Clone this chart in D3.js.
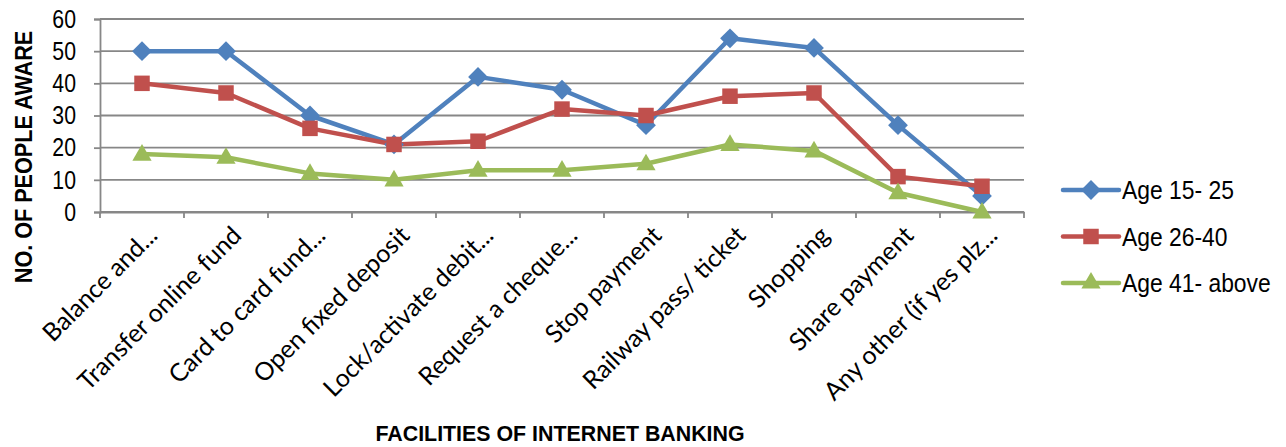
<!DOCTYPE html>
<html>
<head>
<meta charset="utf-8">
<script src="https://cdn.jsdelivr.net/npm/d3@7"></script>
<style>
  body { margin: 0; background: #fff; }
  text { fill: #000; }
</style>
</head>
<body>
<div id="chart"></div>
<script>
var categories = ["Balance and...", "Transfer online fund", "Card to card fund...", "Open fixed deposit",
    "Lock/activate debit...", "Request a cheque...", "Stop payment", "Railway pass/ ticket",
    "Shopping", "Share payment", "Any other (if yes plz..."];
var age15to25 = [50, 50, 30, 21, 42, 38, 27, 54, 51, 27, 5];
var age26to40 = [40, 37, 26, 21, 22, 32, 30, 36, 37, 11, 8];
var age41above = [18, 17, 12, 10, 13, 13, 15, 21, 19, 6, 0];
var yTicks = [0, 10, 20, 30, 40, 50, 60];

var series = [
    { name: "Age 15- 25", values: age15to25, color: "#4F81BD", shape: "diamond" },
    { name: "Age 26-40", values: age26to40, color: "#C0504D", shape: "square" },
    { name: "Age 41- above", values: age41above, color: "#9BBB59", shape: "triangle" }
];

var width = 1286, height = 447;
var plot = { left: 100, right: 1024, top: 19, bottom: 212 };

var svg = d3.select("#chart")
    .append("svg")
    .attr("width", width)
    .attr("height", height);

var x = d3.scaleBand()
    .domain(categories)
    .range([plot.left, plot.right]);

var y = d3.scaleLinear()
    .domain([0, 60])
    .range([plot.bottom, plot.top]);

var narrow = "'Liberation Sans Narrow', 'Arial Narrow', 'Liberation Sans', sans-serif";

// gridlines
svg.selectAll(".grid")
    .data(yTicks)
    .enter()
    .append("line")
    .attr("x1", plot.left)
    .attr("x2", plot.right)
    .attr("y1", function (d) { return y(d); })
    .attr("y2", function (d) { return y(d); })
    .style("stroke", "#878787")
    .style("stroke-width", 1.8);

// y axis
var yAxis = svg.append("g")
    .attr("transform", "translate(" + plot.left + ",0)")
    .call(d3.axisLeft(y).tickValues(yTicks).tickSize(6).tickPadding(0).tickFormat(""));
yAxis.select(".domain").style("stroke", "#878787").style("stroke-width", 1.8);
yAxis.selectAll(".tick line").style("stroke", "#878787").style("stroke-width", 1.8);

// narrow-looking tick numbers
svg.selectAll(".ylabel")
    .data(yTicks)
    .enter()
    .append("text")
    .attr("transform", function (d) { return "translate(76," + y(d) + ") scale(0.85,1)"; })
    .attr("text-anchor", "end")
    .attr("dy", "0.35em")
    .style("font-family", narrow)
    .style("font-size", "25px")
    .text(function (d) { return d; });

// x axis
var xAxis = svg.append("g")
    .attr("transform", "translate(0," + plot.bottom + ")")
    .call(d3.axisBottom(x).tickSize(0).tickFormat(""));
xAxis.select(".domain").style("stroke", "#878787").style("stroke-width", 1.8);

var bounds = d3.range(categories.length + 1).map(function (i) { return plot.left + i * x.step(); });
svg.selectAll(".xtick")
    .data(bounds)
    .enter()
    .append("line")
    .attr("x1", function (d) { return d; })
    .attr("x2", function (d) { return d; })
    .attr("y1", plot.bottom)
    .attr("y2", plot.bottom + 6)
    .style("stroke", "#878787")
    .style("stroke-width", 1.8);

svg.selectAll(".xlabel")
    .data(categories)
    .enter()
    .append("text")
    .attr("transform", function (d) {
        return "translate(" + (x(d) + x.bandwidth() / 2 + 17) + "," + (plot.bottom + 25) + ") rotate(-45)";
    })
    .attr("text-anchor", "end")
    .style("font-family", "Lato, 'Open Sans', sans-serif")
    .style("font-size", "25px")
    .text(function (d) { return d; });

// axis titles
svg.append("text")
    .attr("transform", "translate(32,157) rotate(-90) scale(0.9,1)")
    .attr("text-anchor", "middle")
    .style("font-family", narrow)
    .style("font-weight", "bold")
    .style("font-size", "24px")
    .text("NO. OF PEOPLE AWARE");

svg.append("text")
    .attr("transform", "translate(560,441) scale(0.93,1)")
    .attr("text-anchor", "middle")
    .style("font-family", narrow)
    .style("font-weight", "bold")
    .style("font-size", "23px")
    .text("FACILITIES OF INTERNET BANKING");

// lines and markers
var line = d3.line()
    .x(function (d, i) { return x(categories[i]) + x.bandwidth() / 2; })
    .y(function (d) { return y(d); });

var symbolFor = {
    diamond: d3.symbol().type(d3.symbolDiamond2).size(250),
    square: d3.symbol().type(d3.symbolSquare).size(240),
    triangle: d3.symbol().type(d3.symbolTriangle).size(160)
};

series.forEach(function (s) {
    svg.append("path")
        .datum(s.values)
        .attr("d", line)
        .style("fill", "none")
        .style("stroke", s.color)
        .style("stroke-width", 4.5)
        .style("stroke-linejoin", "round");
});

series.forEach(function (s) {
    svg.selectAll(".m-" + s.shape)
        .data(s.values)
        .enter()
        .append("path")
        .attr("d", symbolFor[s.shape])
        .attr("transform", function (d, i) {
            var dy = s.shape === "triangle" ? 1 : 0;
            return "translate(" + (x(categories[i]) + x.bandwidth() / 2) + "," + (y(d) + dy) + ")";
        })
        .style("fill", s.color);
});

// legend
var legend = svg.selectAll(".legend")
    .data(series)
    .enter()
    .append("g")
    .attr("transform", function (d, i) { return "translate(1063," + (190 + i * 46.5) + ")"; });

legend.append("line")
    .attr("x1", 0)
    .attr("x2", 56)
    .style("stroke", function (d) { return d.color; })
    .style("stroke-width", 4.5)
    .style("stroke-linecap", "round");

legend.append("path")
    .attr("d", function (d) { return symbolFor[d.shape](); })
    .attr("transform", "translate(28,0)")
    .style("fill", function (d) { return d.color; });

legend.append("text")
    .attr("transform", "translate(59,0) scale(0.88,1)")
    .attr("dy", "0.35em")
    .style("font-family", narrow)
    .style("font-size", "26px")
    .text(function (d) { return d.name; });
</script>
</body>
</html>
